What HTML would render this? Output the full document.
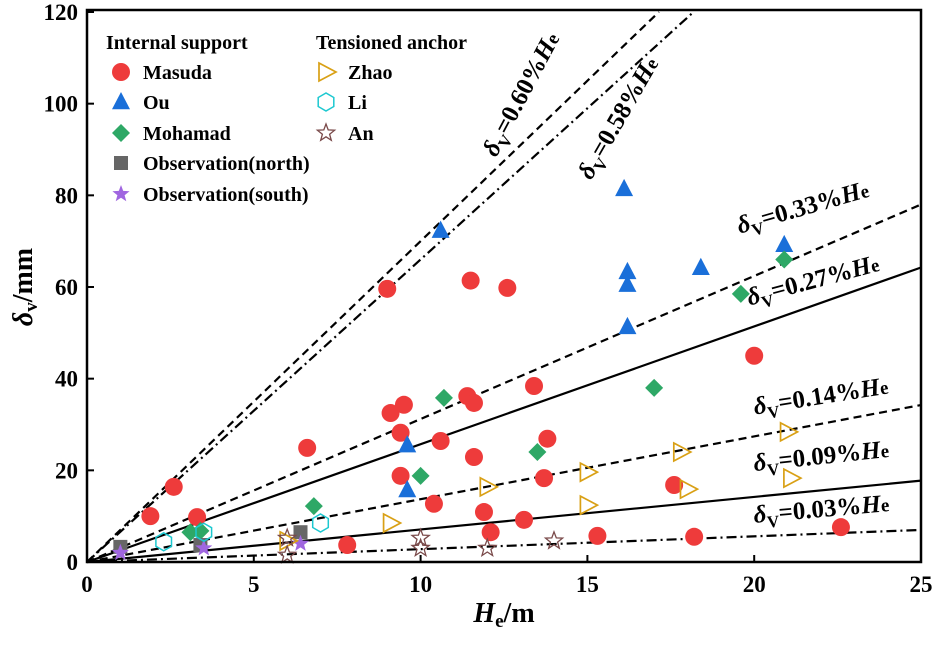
<!DOCTYPE html>
<html><head><meta charset="utf-8"><style>
body{margin:0;background:#fff;}
svg text{font-family:"Liberation Serif",serif;font-weight:bold;}
</style></head><body>
<svg id="chart" width="940" height="641" viewBox="0 0 940 641" xmlns="http://www.w3.org/2000/svg">
<g id="lines"></g>
<g id="marks"></g>
<g id="axes"></g>
<g id="legend"></g>
</svg>
<script>
const xTicks=[0,5,10,15,20,25];
const yTicks=[0,20,40,60,80,100,120];
const lineNames=["0.60","0.58","0.33","0.27","0.14","0.09","0.03"];
const lineSlopes=[7.0,6.6,3.12,2.57,1.37,0.71,0.28];
const masudaX=[1.9,2.6,3.3,9.0,11.5,12.6,6.6,9.1,9.5,9.4,9.4,10.6,11.4,11.6,11.6,10.4,11.9,12.1,13.1,13.4,13.8,13.7,7.8,15.3,18.2,17.6,20.0,22.6];
const masudaY=[10,16.4,9.8,59.6,61.4,59.8,24.9,32.5,34.3,28.2,18.8,26.4,36.2,34.7,22.9,12.7,10.9,6.5,9.2,38.4,26.9,18.3,3.7,5.7,5.5,16.8,45,7.6];
const ouX=[10.6,16.1,16.2,16.2,16.2,18.4,20.9,9.6,9.6];
const ouY=[72.3,81.4,63.3,60.5,51.3,64.2,69.2,25.5,15.7];
const mohX=[10.7,10.0,6.8,3.1,3.4,13.5,17.0,19.6,20.9];
const mohY=[35.8,18.8,12.2,6.5,6.8,24,38,58.5,66];
const northX=[1.0,3.4,6.4];
const northY=[3.3,3.7,6.5];
const southX=[1.0,3.5,6.4];
const southY=[2,3,4];
const zhaoX=[6.0,9.1,12.0,15.0,15.0,17.8,18.0,21.0,21.1];
const zhaoY=[4.6,8.5,16.4,19.6,12.4,24,15.9,28.4,18.3];
const liX=[2.3,3.5,7.0];
const liY=[4.4,6.5,8.5];
const anX=[6.0,6.0,10.0,10.0,12.0,14.0];
const anY=[5.2,1.5,5.2,3.0,3.0,4.6];

const X0=87,X1=921,Y0=562,Y1=12;
const sx=v=>X0+(X1-X0)*v/25;
const sy=v=>Y0-(Y0-Y1)*v/120;
const NS="http://www.w3.org/2000/svg";
function mk(tag,attrs,parent){const e=document.createElementNS(NS,tag);for(const k in attrs)e.setAttribute(k,attrs[k]);parent.appendChild(e);return e;}
const axes=document.getElementById('axes'),marks=document.getElementById('marks'),lines=document.getElementById('lines'),legend=document.getElementById('legend');

const dashes=["8,5","10,4,2,4","8,5","none","8,5","none","10,4,2,4"];
const labelPos=[[528,98,-62],[625,122,-60],[805,215,-16],[815,288,-15],[822,404,-9],[822,464,-6],[822,517,-5]];
lineNames.forEach((n,i)=>{
  let xe=25; if(lineSlopes[i]*25>120) xe=120/lineSlopes[i];
  const l=mk('line',{x1:sx(0),y1:sy(0),x2:sx(xe),y2:sy(lineSlopes[i]*xe),stroke:'#000','stroke-width':2.2,'stroke-dasharray':dashes[i]},lines);
  
  
  const p=labelPos[i];
  const t=mk('text',{x:p[0],y:p[1],'font-size':25,'text-anchor':'middle',transform:`rotate(${p[2]} ${p[0]} ${p[1]})`},lines);
  
  
  t.innerHTML=`<tspan font-style="italic">δ</tspan><tspan font-size="17" dy="6">V</tspan><tspan dy="-6">=${n}%</tspan><tspan font-style="italic">H</tspan><tspan font-size="19">e</tspan>`;
});

function marker(type,x,y,parent,r){
  r=r||9;let e;
  if(type==='circle')e=mk('circle',{cx:x,cy:y,r:r,fill:'#ee3b3b'},parent);
  else if(type==='tri')e=mk('polygon',{points:`${x},${y-r-1} ${x-r},${y+r*0.8} ${x+r},${y+r*0.8}`,fill:'#1a6fd9'},parent);
  else if(type==='diamond')e=mk('polygon',{points:`${x},${y-r} ${x+r},${y} ${x},${y+r} ${x-r},${y}`,fill:'#2ea866'},parent);
  else if(type==='square')e=mk('rect',{x:x-7,y:y-7,width:14,height:14,fill:'#666'},parent);
  else if(type==='star'||type==='ostar'){let pts=[];for(let k=0;k<10;k++){const a=-Math.PI/2+k*Math.PI/5,rr=k%2?r*0.42:r;pts.push((x+rr*Math.cos(a)).toFixed(1)+','+(y+rr*Math.sin(a)).toFixed(1));}
    e=type==='star'?mk('polygon',{points:pts.join(' '),fill:'#a066e0'},parent):mk('polygon',{points:pts.join(' '),fill:'none',stroke:'#7a4a4a','stroke-width':1.3},parent);}
  else if(type==='rtri')e=mk('polygon',{points:`${x-7},${y-9} ${x+10},${y} ${x-7},${y+9}`,fill:'none',stroke:'#d9a015','stroke-width':1.7},parent);
  else if(type==='hex'){let pts=[];for(let k=0;k<6;k++){const a=Math.PI/6+k*Math.PI/3;pts.push((x+9*Math.cos(a)).toFixed(1)+','+(y+9*Math.sin(a)).toFixed(1));}
    e=mk('polygon',{points:pts.join(' '),fill:'none',stroke:'#1cc8d0','stroke-width':1.5},parent);}
  return e;
}
const series=[['masuda','circle',masudaX,masudaY],['ou','tri',ouX,ouY],['mohamad','diamond',mohX,mohY],['obs-north','square',northX,northY],['obs-south','star',southX,southY],['zhao','rtri',zhaoX,zhaoY],['li','hex',liX,liY],['an','ostar',anX,anY]];
series.forEach(s=>{s[2].forEach((v,i)=>{const e=marker(s[1],sx(v),sy(s[3][i]),marks);
  
  });});

const box=mk('rect',{x:X0,y:Y1-2,width:X1-X0,height:Y0-Y1+2,fill:'none',stroke:'#000','stroke-width':2.5},axes);


xTicks.forEach(v=>{const tk=mk('line',{x1:sx(v),y1:Y0,x2:sx(v),y2:Y0-7,stroke:'#000','stroke-width':2},axes);
  
  
  const t=mk('text',{x:sx(v),y:Y0+30,'font-size':23,'text-anchor':'middle'},axes);t.textContent=v;
  
  });
yTicks.forEach(v=>{const tk=mk('line',{x1:X0,y1:sy(v),x2:X0+7,y2:sy(v),stroke:'#000','stroke-width':2},axes);
  
  
  const t=mk('text',{x:X0-9,y:sy(v)+8,'font-size':23,'text-anchor':'end'},axes);t.textContent=v;
  
  });
const xt=mk('text',{x:504,y:622,'font-size':28,'text-anchor':'middle'},axes);


xt.innerHTML='<tspan font-style="italic">H</tspan><tspan font-size="19" dy="5">e</tspan><tspan dy="-5">/m</tspan>';
const yt=mk('text',{x:32,y:287,'font-size':28,'text-anchor':'middle',transform:'rotate(-90 32 287)'},axes);


yt.innerHTML='<tspan font-style="italic">δ</tspan><tspan font-size="19" dy="5">v</tspan><tspan dy="-5">/mm</tspan>';

const lg=[['Internal support',106,49,null],['Tensioned anchor',316,49,null],
['Masuda',143,79,'circle',121],['Ou',143,109,'tri',121],['Mohamad',143,140,'diamond',121],['Observation(north)',143,170,'square',121],['Observation(south)',143,201,'star',121],
['Zhao',348,79,'rtri',326],['Li',348,109,'hex',326],['An',348,140,'ostar',326]];
lg.forEach(d=>{const t=mk('text',{x:d[1],y:d[2],'font-size':20},legend);t.textContent=d[0];
  
  
  if(d[3]){const m=marker(d[3],d[4],d[2]-7,legend);
    
    }});
</script>
</body></html>
